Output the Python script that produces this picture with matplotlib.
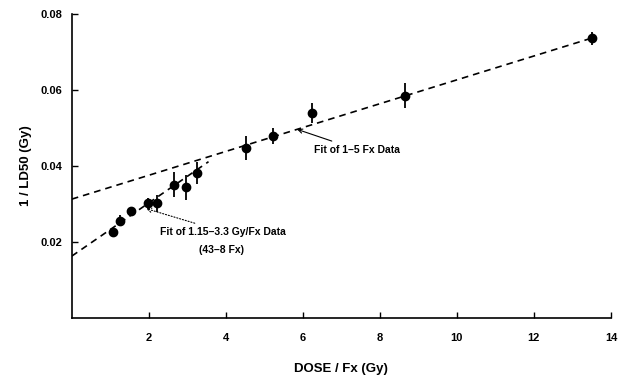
import matplotlib
matplotlib.use('Agg')
import matplotlib.pyplot as plt
import numpy as np

# data
dose_per_fx = [1.07, 1.25, 1.53, 1.97, 2.20, 2.66, 2.96, 3.25,
               4.52, 5.23, 6.23, 8.65, 13.5]
inv_ld50 = [0.0227, 0.0256, 0.0282, 0.0302, 0.0302, 0.0351, 0.0344, 0.0382,
            0.0447, 0.0479, 0.0539, 0.0585, 0.0737]
err = [0.0010, 0.0015, 0.0010, 0.0015, 0.0022, 0.0033, 0.0032, 0.0030,
       0.0032, 0.0020, 0.0026, 0.0033, 0.0017]

# fit lines: intercept, slope, x range
fit1 = dict(b=0.0313, m=0.00314, xmax=13.6)   # 1-5 Fx data
fit2 = dict(b=0.0163, m=0.0070, xmax=3.55)    # 1.15-3.3 Gy/Fx data

xticks = [2, 4, 6, 8, 10, 12, 14]
yticks = [0.02, 0.04, 0.06, 0.08]

plt.rcParams['font.family'] = ['Liberation Sans', 'DejaVu Sans']
plt.rcParams['font.weight'] = 'bold'

fig = plt.figure(figsize=(6.19, 3.82), dpi=100)
ax = fig.add_axes([0.116, 0.1675, 0.871, 0.7955])

for f in (fit1, fit2):
    xs = np.array([0, f['xmax']])
    ax.plot(xs, f['b'] + f['m'] * xs, ls=(0, (4, 3)), color='black', lw=1.2)

ax.errorbar(dose_per_fx, inv_ld50, yerr=err, fmt='o', color='black',
            ms=6, elinewidth=1.3, capsize=0)

ax.set_xlim(0, 14)
ax.set_ylim(0, 0.08)
ax.set_xticks(xticks)
ax.set_yticks(yticks)
ax.set_yticklabels([f'{v:.2f}' for v in yticks])
ax.tick_params(direction='in', length=4, width=1, labelsize=8)
ax.tick_params(axis='x', pad=11)
ax.tick_params(axis='y', pad=7)
for s in ('top', 'right'):
    ax.spines[s].set_visible(False)
for s in ('left', 'bottom'):
    ax.spines[s].set_linewidth(1.2)

ax.set_xlabel('DOSE / Fx (Gy)', fontsize=9.5, fontweight='bold', labelpad=14)
ax.set_ylabel('1 / LD50 (Gy)', fontsize=9.5, fontweight='bold', labelpad=6)

ax.annotate('Fit of 1\u20135 Fx Data', xy=(5.85, fit1['b'] + fit1['m'] * 5.85),
            xytext=(6.3, 0.0443), fontsize=7.5, fontweight='bold',
            va='center', ha='left',
            arrowprops=dict(arrowstyle='->', color='black', lw=0.8,
                            shrinkA=2, shrinkB=0))
ax.annotate('Fit of 1.15\u20133.3 Gy/Fx Data', xy=(1.93, 0.0288),
            xytext=(2.3, 0.0227), fontsize=7.5, fontweight='bold',
            va='center', ha='left',
            arrowprops=dict(arrowstyle='->', color='black', lw=0.8,
                            ls=':', shrinkA=2, shrinkB=0))
ax.text(3.9, 0.0180, '(43\u20138 Fx)', fontsize=7.5, fontweight='bold',
        va='center', ha='center')

fig.savefig('out.png', dpi=100)
